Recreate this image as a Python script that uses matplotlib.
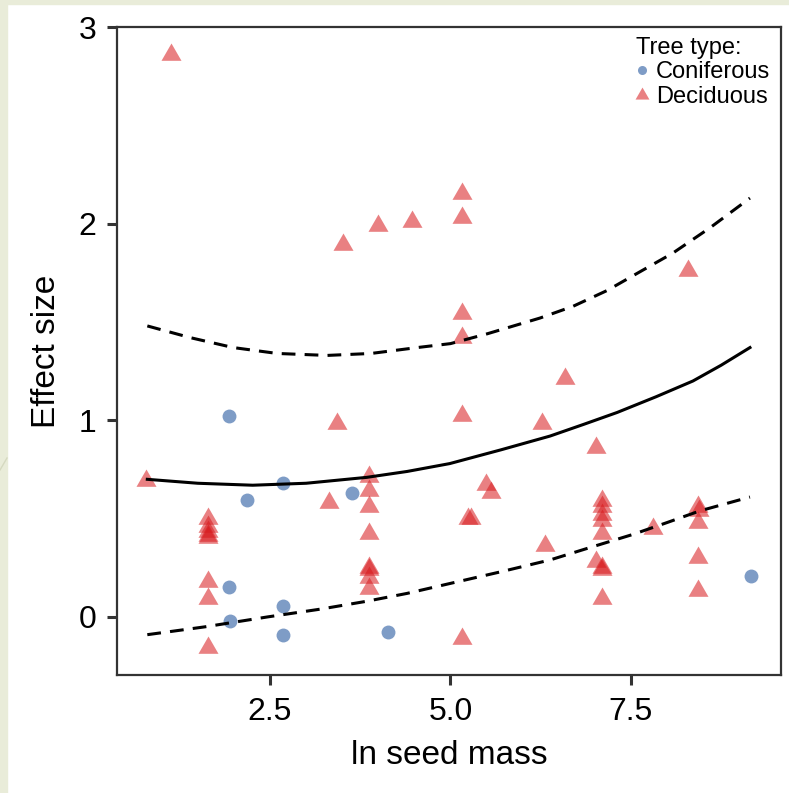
import matplotlib.pyplot as plt
from matplotlib.lines import Line2D
from matplotlib.patches import Rectangle

plt.rcParams['font.family'] = ['Liberation Sans', 'DejaVu Sans']

# coniferous species (blue circles)
con_x = [1.93, 2.18, 2.68, 3.64, 1.93, 1.95, 2.68, 2.68, 4.13, 9.16]
con_y = [1.02, 0.595, 0.68, 0.63, 0.15, -0.02, 0.056, -0.09, -0.076, 0.21]

# deciduous species (red triangles)
dec_x = [1.13, 3.51, 3.99, 4.47, 5.16, 5.16, 5.16, 5.16, 8.29,
         0.78, 3.43, 3.32, 3.87, 3.87, 3.87, 3.87, 3.87, 3.87, 3.87, 3.87,
         1.64, 1.64, 1.64, 1.64, 1.64, 1.64, 1.64, 1.64,
         5.16, 6.27, 7.02, 6.59, 5.49, 5.56, 5.24, 5.28, 6.31,
         7.10, 7.10, 7.10, 7.10, 7.10, 7.02, 7.10, 7.10, 7.10,
         7.80, 8.43, 8.44, 8.43, 8.43, 8.43, 5.16]
dec_y = [2.87, 1.90, 2.00, 2.02, 2.16, 2.04, 1.55, 1.43, 1.77,
         0.70, 0.99, 0.59, 0.72, 0.65, 0.57, 0.43, 0.26, 0.25, 0.21, 0.15,
         0.51, 0.47, 0.44, 0.42, 0.41, 0.19, 0.10, -0.15,
         1.03, 0.99, 0.87, 1.22, 0.68, 0.64, 0.51, 0.51, 0.37,
         0.60, 0.57, 0.53, 0.50, 0.43, 0.29, 0.26, 0.25, 0.10,
         0.46, 0.57, 0.55, 0.49, 0.31, 0.14, -0.10]

# fitted curve and confidence band
fit_x = [0.80, 1.50, 2.26, 3.00, 3.84, 4.40, 4.99, 5.70, 6.38, 6.85, 7.31, 7.85, 8.36, 8.75, 9.15]
fit_y = [0.70, 0.68, 0.67, 0.68, 0.71, 0.74, 0.78, 0.85, 0.92, 0.98, 1.04, 1.12, 1.20, 1.28, 1.37]
up_x = [0.80, 1.40, 1.99, 2.60, 3.29, 3.90, 4.54, 5.00, 5.51, 6.24, 6.70, 7.17, 7.60, 8.08, 8.60, 9.15]
up_y = [1.48, 1.42, 1.37, 1.34, 1.33, 1.34, 1.37, 1.39, 1.44, 1.52, 1.58, 1.66, 1.75, 1.85, 1.98, 2.13]
lo_x = [0.80, 1.60, 2.46, 3.20, 3.84, 4.40, 4.99, 5.70, 6.38, 6.95, 7.53, 8.00, 8.46, 9.15]
lo_y = [-0.09, -0.05, 0.00, 0.04, 0.08, 0.12, 0.17, 0.23, 0.29, 0.355, 0.42, 0.48, 0.54, 0.61]

blue = (0.157, 0.353, 0.627)
red = (0.843, 0.098, 0.110)
tri = [(0, 1), (-1, -0.732), (1, -0.732)]

W, H = 789, 793
fig = plt.figure(figsize=(W / 100, H / 100), dpi=100)
fig.patch.set_facecolor('white')

# slide background strips
beige = '#e9ecd9'
fig.patches.append(Rectangle((0, 0), 7 / W, 1, transform=fig.transFigure, color=beige, zorder=0))
fig.patches.append(Rectangle((0, 1 - 4 / H), 1, 4 / H, transform=fig.transFigure, color=beige, zorder=0))
fig.lines.append(Line2D([0, 7 / W], [1 - 470 / H, 1 - 458 / H], transform=fig.transFigure,
                        color='#d5d9c0', lw=1))

ax = fig.add_axes([117 / W, 1 - 675 / H, (781 - 117) / W, (675 - 27) / H])

ax.plot(con_x, con_y, ls='', marker='o', ms=10, mew=0, color=blue, alpha=0.6, zorder=3)
ax.plot(dec_x, dec_y, ls='', marker=tri, ms=14.4, mew=0, color=red, alpha=0.55, zorder=3)

ax.plot(fit_x, fit_y, color='black', lw=2.2, zorder=4, solid_joinstyle='round')
ax.plot(up_x, up_y, color='black', lw=2.2, dashes=(4.5, 3), zorder=4)
ax.plot(lo_x, lo_y, color='black', lw=2.2, dashes=(4.5, 3), zorder=4)

ax.set_xlim(0.38, 9.58)
ax.set_ylim(-0.295, 3.0)
ax.set_xticks([2.5, 5.0, 7.5])
ax.set_xticklabels(['2.5', '5.0', '7.5'])
ax.set_yticks([0, 1, 2, 3])

for s in ax.spines.values():
    s.set_color('#333333')
    s.set_linewidth(1.6)
ax.tick_params(direction='out', length=7, width=2.2, color='#333333',
               labelsize=23, labelcolor='black')
ax.tick_params(axis='x', pad=9)
ax.tick_params(axis='y', pad=8)

ax.set_xlabel('ln seed mass', fontsize=24, labelpad=9)
ax.set_ylabel('Effect size', fontsize=24, labelpad=12)

handles = [
    Line2D([], [], ls='', marker='o', ms=6.5, mew=0, color=blue, alpha=0.6),
    Line2D([], [], ls='', marker=tri, ms=10, mew=0, color=red, alpha=0.55),
]
leg = ax.legend(handles, ['Coniferous', 'Deciduous'], title='Tree type:',
                loc='upper right', bbox_to_anchor=(770 / W, 1 - 37 / H),
                bbox_transform=fig.transFigure, frameon=False,
                fontsize=17, title_fontsize=17, alignment='left',
                handlelength=0.5, handletextpad=0.35, labelspacing=0.1,
                borderpad=0, borderaxespad=0)

fig.savefig('out.png', dpi=100)
